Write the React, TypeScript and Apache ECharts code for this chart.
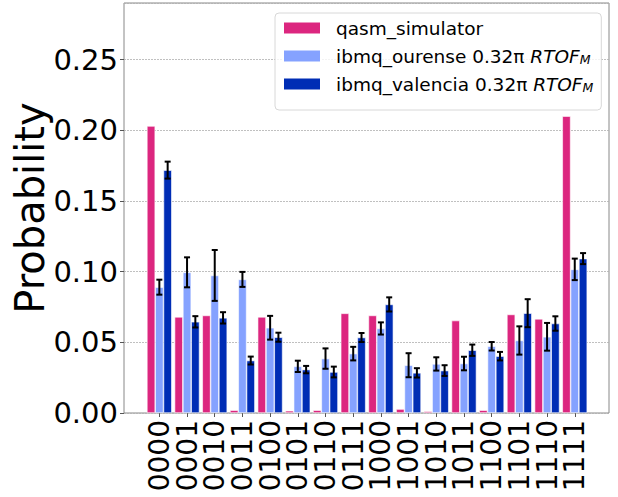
import React, { useEffect, useRef } from "react";
import * as echarts from "echarts";

const categories = ["0000","0001","0010","0011","0100","0101","0110","0111","1000","1001","1010","1011","1100","1101","1110","1111"];
const simValues = [0.203,0.068,0.069,0.002,0.068,0.0016,0.002,0.0705,0.069,0.0028,0.0012,0.0654,0.002,0.0697,0.0666,0.210];
const ourenseValues = [0.089,0.0995,0.0973,0.0945,0.0603,0.033,0.0385,0.042,0.0598,0.0338,0.0347,0.035,0.0472,0.0513,0.0539,0.1016];
const ourenseErrors = [0.0053,0.0106,0.018,0.0053,0.0084,0.004,0.0072,0.0048,0.0043,0.0085,0.0047,0.0048,0.003,0.010,0.0098,0.0076];
const valenciaValues = [0.1718,0.0645,0.0673,0.0371,0.0536,0.0307,0.029,0.0534,0.0768,0.0284,0.030,0.0444,0.0402,0.0706,0.0633,0.1092];
const valenciaErrors = [0.006,0.004,0.004,0.0028,0.0032,0.0026,0.0038,0.0032,0.005,0.0033,0.0038,0.004,0.003,0.0099,0.0051,0.0039];
const yTicks = [0, 0.05, 0.1, 0.15, 0.2, 0.25];

const FONT = "DejaVu Sans";
const PINK = "#DC267F";
const LIGHT = "#85A2FF";
const DARK = "#002DB5";

function errorSeries(values: number[], errors: number[], offset: number) {
  return {
    type: "custom",
    xAxisIndex: 1,
    yAxisIndex: 1,
    z: 10,
    silent: true,
    data: values.map((v, i) => [i, v, errors[i]]),
    encode: { x: 0, y: 1 },
    renderItem: (params: any, api: any) => {
      const i = api.value(0);
      const v = api.value(1);
      const e = api.value(2);
      const band = api.size([1, 0])[0];
      const c = api.coord([i, v]);
      const x = c[0] + offset * band;
      const yTop = api.coord([i, v + e])[1];
      const yBot = api.coord([i, v - e])[1];
      const cap = 3;
      const style = { stroke: "#000", lineWidth: 2 };
      return {
        type: "group",
        children: [
          { type: "line", shape: { x1: x, y1: yTop, x2: x, y2: yBot }, style },
          { type: "line", shape: { x1: x - cap, y1: yTop, x2: x + cap, y2: yTop }, style },
          { type: "line", shape: { x1: x - cap, y1: yBot, x2: x + cap, y2: yBot }, style },
        ],
      };
    },
  };
}

const legendLabels: Record<string, string> = {
  qasm_simulator: "{n|qasm_simulator}",
  ibmq_ourense: "{n|ibmq_ourense 0.32π }{i|RTOF}{s|M}",
  ibmq_valencia: "{n|ibmq_valencia 0.32π }{i|RTOF}{s|M}",
};

export default function App() {
  const ref = useRef<HTMLDivElement>(null);
  useEffect(() => {
    if (!ref.current) return;
    const chart = echarts.init(ref.current, null, { renderer: "svg" });
    const barBase = {
      type: "bar",
      xAxisIndex: 1,
      yAxisIndex: 1,
      barWidth: "30%",
      barGap: "0%",
    };
    chart.setOption({
      animation: false,
      textStyle: { fontFamily: FONT },
      grid: [
        { left: 124, top: 3, right: 9, bottom: 84, show: true, borderColor: "#888", borderWidth: 1, backgroundColor: "transparent", outerBoundsMode: "none", containLabel: false },
        { left: 145.5, top: 3, right: 29.4, bottom: 84, outerBoundsMode: "none", containLabel: false },
      ],
      legend: {
        orient: "vertical",
        left: 275,
        top: 13,
        itemWidth: 38,
        itemHeight: 13,
        itemGap: 8,
        icon: "rect",
        padding: [5, 8, 16, 7],
        borderColor: "#d8d8d8",
        borderWidth: 1,
        borderRadius: 4,
        backgroundColor: "rgba(255,255,255,0.8)",
        data: ["qasm_simulator", "ibmq_ourense", "ibmq_valencia"],
        formatter: (name: string) => legendLabels[name],
        textStyle: {
          fontFamily: FONT,
          fontSize: 18.5,
          color: "#000",
          lineHeight: 20,
          rich: {
            n: { fontFamily: FONT, fontSize: 18.5, color: "#000", padding: [0, 0, 0, 10], lineHeight: 20 },
            i: { fontFamily: FONT, fontSize: 18.5, color: "#000", fontStyle: "italic", lineHeight: 20 },
            s: { fontFamily: FONT, fontSize: 12.5, color: "#000", fontStyle: "italic", verticalAlign: "bottom", lineHeight: 14, padding: [6, 0, 0, 0] },
          },
        },
      },
      xAxis: [
        { gridIndex: 0, type: "value", min: 0, max: 1, show: false },
        {
          gridIndex: 1,
          type: "category",
          data: categories,
          axisLine: { show: false },
          axisTick: { show: true, alignWithLabel: true, length: 4, lineStyle: { color: "#555" } },
          axisLabel: { rotate: 90, fontSize: 28, color: "#000", margin: 7, fontFamily: FONT, interval: 0 },
        },
      ],
      yAxis: [
        {
          gridIndex: 0,
          type: "value",
          min: 0,
          max: 0.29,
          interval: 0.05,
          name: "Probability",
          nameLocation: "middle",
          nameGap: 74,
          nameMoveOverlap: false,
          nameTextStyle: { fontSize: 40, color: "#000", fontFamily: FONT },
          axisLine: { show: false },
          axisTick: { show: true, length: 4, lineStyle: { color: "#555" } },
          axisLabel: {
            fontSize: 29,
            color: "#000",
            margin: 6,
            fontFamily: FONT,
            showMaxLabel: false,
            formatter: (v: number) => (yTicks.some((t) => Math.abs(t - v) < 1e-9) ? v.toFixed(2) : ""),
          },
          splitLine: { show: true, lineStyle: { color: "#b0b0b0", type: [2, 1], width: 0.8 } },
        },
        { gridIndex: 1, type: "value", min: 0, max: 0.29, show: false },
      ],
      series: [
        { ...barBase, name: "qasm_simulator", data: simValues, itemStyle: { color: PINK, borderColor: "#fff", borderWidth: 0.6 } },
        { ...barBase, name: "ibmq_ourense", data: ourenseValues, itemStyle: { color: LIGHT, borderColor: "#fff", borderWidth: 0.6 } },
        { ...barBase, name: "ibmq_valencia", data: valenciaValues, itemStyle: { color: DARK, borderColor: "#fff", borderWidth: 0.6 } },
        errorSeries(ourenseValues, ourenseErrors, 0),
        errorSeries(valenciaValues, valenciaErrors, 0.3),
      ],
    });
    return () => chart.dispose();
  }, []);
  return <div ref={ref} style={{ position: "absolute", left: 0, top: 0, width: 618, height: 497 }} />;
}
